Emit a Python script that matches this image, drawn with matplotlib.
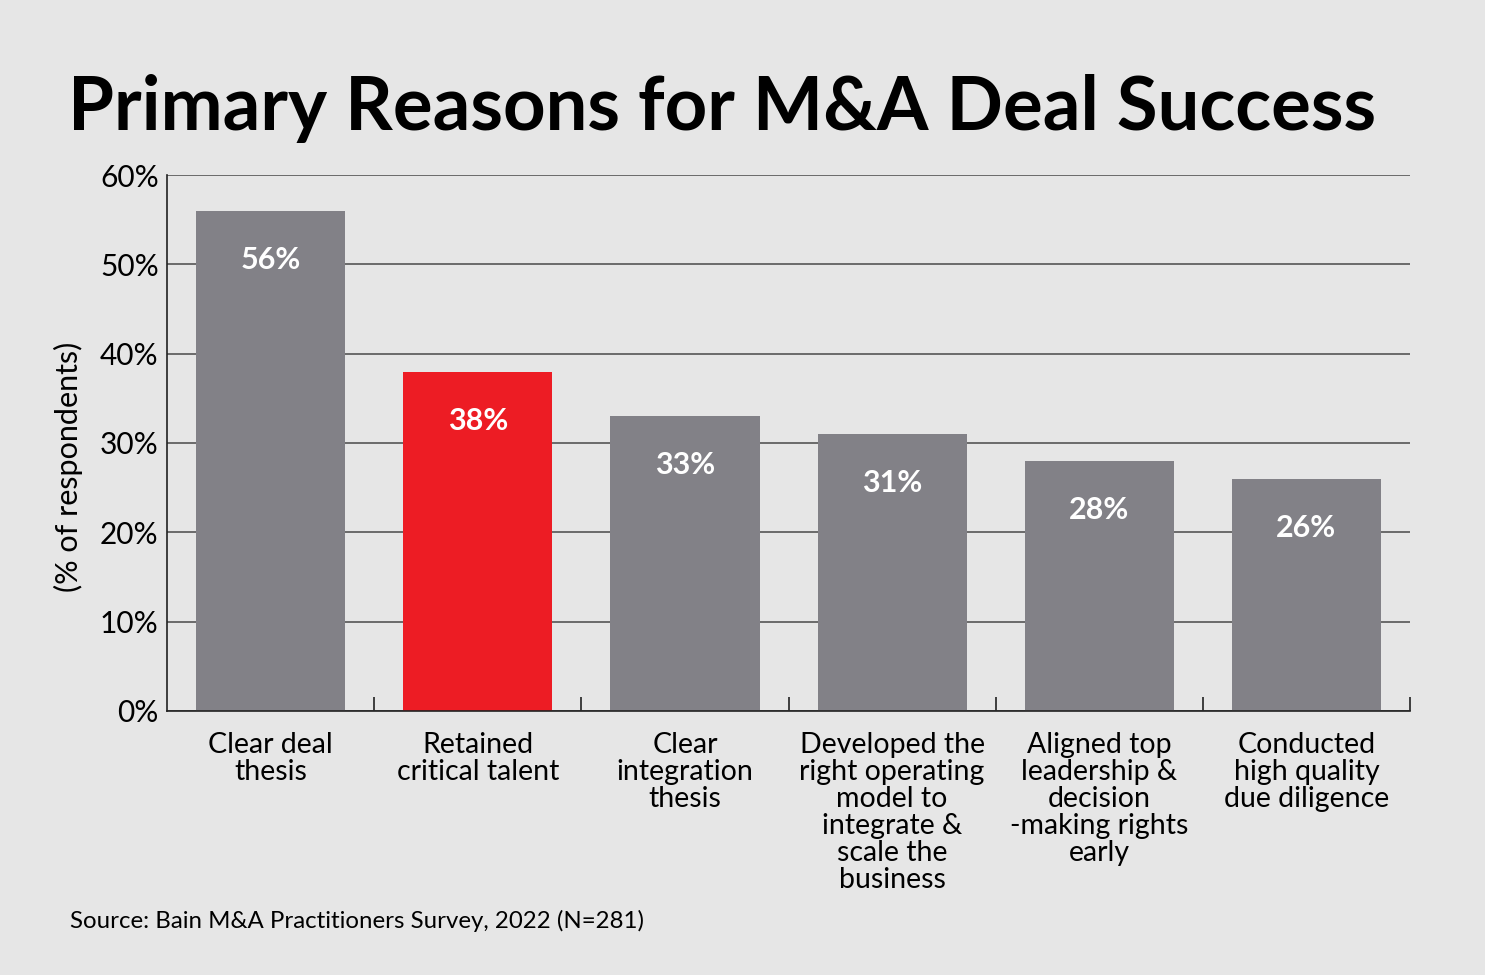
import matplotlib.pyplot as plt
from matplotlib.ticker import FixedLocator

categories = [
    "Clear deal\nthesis",
    "Retained\ncritical talent",
    "Clear\nintegration\nthesis",
    "Developed the\nright operating\nmodel to\nintegrate &\nscale the\nbusiness",
    "Aligned top\nleadership &\ndecision\n-making rights\nearly",
    "Conducted\nhigh quality\ndue diligence",
]
values = [56, 38, 33, 31, 28, 26]
highlight = 1
y_ticks = [0, 10, 20, 30, 40, 50, 60]

BG = "#e6e6e6"
GRAY = "#828187"
RED = "#ed1c24"
FONT = "Lato"

plt.rcParams["font.family"] = [FONT, "DejaVu Sans"]

fig = plt.figure(figsize=(14.85, 9.75), dpi=100, facecolor=BG)
ax = fig.add_axes([0.1125, 0.2708, 0.837, 0.5497], facecolor=BG)

x = list(range(len(categories)))
colors = [RED if i == highlight else GRAY for i in x]
bars = ax.bar(x, values, width=0.72, color=colors, zorder=2)

for b, v in zip(bars, values):
    ax.annotate(f"{v}%", (b.get_x() + b.get_width() / 2, v),
                xytext=(0, -35.5), textcoords="offset points",
                ha="center", va="center", color="white",
                fontsize=22, fontweight="bold")

ax.set_xlim(-0.5, len(categories) - 0.5)
ax.set_ylim(0, 60)
ax.set_yticks(y_ticks)
ax.set_yticklabels([f"{t}%" for t in y_ticks], fontsize=21.5)
ax.tick_params(axis="y", length=0, pad=6)
ax.yaxis.grid(True, color="#555555", linewidth=1.2, zorder=1)

ax.set_xticks(x)
ax.set_xticklabels(categories, fontsize=20.5, linespacing=1.05, va="top")
ax.tick_params(axis="x", which="major", length=0, pad=15)
ax.xaxis.set_minor_locator(FixedLocator([i + 0.5 for i in x]))
ax.tick_params(axis="x", which="minor", direction="in", length=10,
               width=1.2, color="#222222")

for s in ["top", "right"]:
    ax.spines[s].set_visible(False)
ax.spines["left"].set_color("#222222")
ax.spines["bottom"].set_color("#222222")
ax.spines["left"].set_linewidth(1.2)
ax.spines["bottom"].set_linewidth(1.2)

ax.set_ylabel("(% of respondents)", fontsize=22)
ax.yaxis.set_label_coords(-0.068, 0.455)

fig.text(0.046, 0.867, "Primary Reasons for M&A Deal Success",
         fontsize=53.5, fontweight="bold", ha="left", va="baseline")
fig.text(0.047, 0.055, "Source: Bain M&A Practitioners Survey, 2022 (N=281)",
         fontsize=17.3, ha="left", va="center")

fig.savefig("out.png", dpi=100, facecolor=BG)
